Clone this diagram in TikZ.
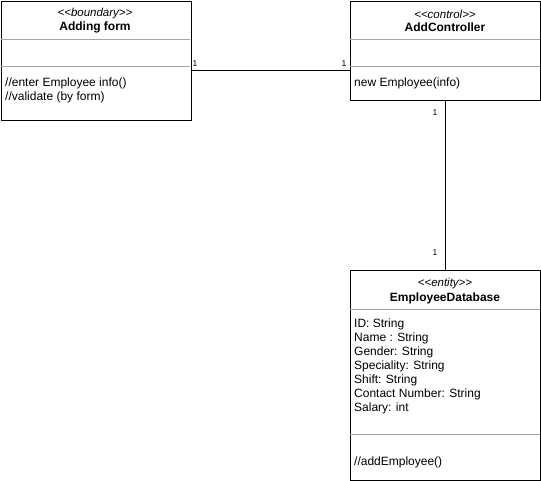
\documentclass[tikz,border=0pt]{standalone}
\usepackage{fontspec}
\setmainfont{Liberation Sans}
\usetikzlibrary{positioning,calc}

\newcommand{\stereotype}[1]{<\kern0pt<#1>\kern0pt>}

\tikzset{
  classbox/.style={draw, thick, minimum width=190pt, anchor=north west, inner sep=0pt},
  sep/.style={draw=gray!70, line width=0.6pt},
  stereo/.style={font=\fontsize{11.5}{13}\selectfont\itshape, inner sep=0pt},
  cname/.style={font=\fontsize{12}{13}\selectfont\bfseries, inner sep=0pt},
  member/.style={font=\fontsize{12}{14}\selectfont, align=left, anchor=north west, inner sep=0pt},
  mult/.style={font=\fontsize{8.5}{10}\selectfont, inner sep=0pt}
}

\begin{document}
\begin{tikzpicture}[x=1pt,y=-1pt]
        \useasboundingbox (0,0) rectangle (541,481);
        % boundary class
        \node[classbox, minimum height=119pt] (form) at (0.5,1) {};
        \draw[sep] (0.5,39) -- (190,39);
        \draw[sep] (0.5,66) -- (190,66);
        \node[stereo] (formst) at (95,14) {\stereotype{boundary}};
        \node[cname] (formname) at (95,27) {Adding form};
        \node[member] (formops) at (5,78) {//enter Employee info()\\//validate (by form)};
        % control class
        \node[classbox, minimum height=99pt] (ctrl) at (350,1) {};
        \draw[sep] (350,39) -- (540,39);
        \draw[sep] (350,66) -- (540,66);
        \node[stereo] (ctrlst) at (445,14) {\stereotype{control}};
        \node[cname] (ctrlname) at (445,27) {AddController};
        \node[member] (ctrlops) at (354,78) {new Employee(info)};
        % entity class
        \node[classbox, minimum height=210pt] (db) at (350,270) {};
        \draw[sep] (350,309) -- (540,309);
        \draw[sep] (350,434) -- (540,434);
        \node[stereo] (dbst) at (445,284) {\stereotype{entity}};
        \node[cname] (dbname) at (445,298) {EmployeeDatabase};
        \node[member] (dbattr) at (354,319) {ID: String\\Name : String\\Gender: String\\Speciality: String\\Shift: String\\Contact Number: String\\Salary: int};
        \node[member] (dbops) at (354,457) {//addEmployee()};
        % associations
        \draw (form.east |- 0,70) -- (ctrl.west |- 0,70);
        \draw (ctrl.south) -- (db.north);
        \node[mult] (m1) at (195,64) {1};
        \node[mult] (m2) at (344,64) {1};
        \node[mult] (m3) at (435,113) {1};
        \node[mult] (m4) at (435,253) {1};
\end{tikzpicture}
\end{document}
